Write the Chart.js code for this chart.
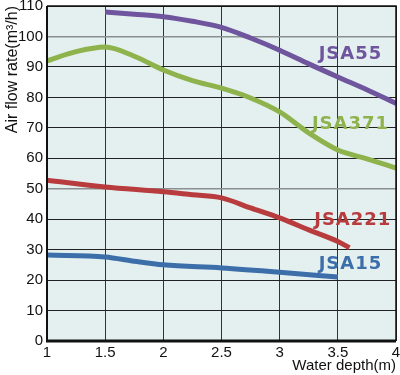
<!DOCTYPE html>
<html lang="en">
<head>
  <meta charset="UTF-8">
  <title>Air flow rate vs water depth</title>
  <script src="https://cdn.jsdelivr.net/npm/chart.js"></script>
  <style>
    html, body {
      margin: 0;
      padding: 0;
      background: #ffffff;
    }
    #wrap {
      width: 400px;
      height: 375px;
    }
  </style>
</head>
<body>
  <div id="wrap"><canvas id="chart" width="400" height="375"></canvas></div>

  <script>
    // water depth (m) / air flow rate (m3/h)
    const seriesNames = ['JSA55', 'JSA371', 'JSA221', 'JSA15'];
    const seriesColors = ['#6f559d', '#8fb34c', '#b83c3e', '#3c6ea9'];

    const jsa55Depth = [1.5, 1.75, 2, 2.25, 2.5, 2.75, 3, 3.25, 3.5, 3.75, 4];
    const jsa55Flow = [108, 107.3, 106.5, 105, 103, 99.5, 95.5, 91, 86.7, 82.5, 78];

    const jsa371Depth = [1, 1.25, 1.5, 1.75, 2, 2.25, 2.5, 2.75, 3, 3.25, 3.5, 3.75, 4];
    const jsa371Flow = [92, 95, 96.5, 93.5, 89, 85.5, 83, 79.8, 75.2, 68.3, 62.7, 59.8, 56.8];

    const jsa221Depth = [1, 1.5, 2, 2.25, 2.5, 2.75, 3, 3.25, 3.5, 3.6];
    const jsa221Flow = [52.8, 50.6, 49, 48, 47, 43.7, 40.4, 36.5, 32.7, 30.6];

    const jsa15Depth = [1, 1.5, 1.75, 2, 2.5, 3, 3.5];
    const jsa15Flow = [28.2, 27.6, 26.2, 25, 24, 22.6, 21];

    const depthList = [jsa55Depth, jsa371Depth, jsa221Depth, jsa15Depth];
    const flowList = [jsa55Flow, jsa371Flow, jsa221Flow, jsa15Flow];

    // where each series name sits, in data units
    const labelAt = [[3.6, 94], [3.6, 71], [3.62, 39.5], [3.6, 25.3]];

    const datasets = seriesNames.map((name, i) => ({
      label: name,
      data: depthList[i].map((d, j) => ({ x: d, y: flowList[i][j] })),
      borderColor: seriesColors[i],
      borderWidth: 5,
      pointRadius: 0,
      tension: 0.4,
      cubicInterpolationMode: 'monotone',
      fill: false
    }));

    const plotBackground = {
      id: 'plotBackground',
      beforeDraw(chart) {
        const { ctx, chartArea: a } = chart;
        ctx.save();
        ctx.fillStyle = '#e4eff0';
        ctx.fillRect(a.left, a.top, a.right - a.left, a.bottom - a.top);
        ctx.restore();
      },
      afterDatasetsDraw(chart) {
        const { ctx, chartArea: a } = chart;
        ctx.save();
        ctx.strokeStyle = '#111';
        ctx.lineWidth = 1.5;
        ctx.beginPath();
        ctx.moveTo(a.left, a.top);
        ctx.lineTo(a.right, a.top);
        ctx.lineTo(a.right, a.bottom);
        ctx.stroke();
        ctx.lineWidth = 3;
        ctx.beginPath();
        ctx.moveTo(a.left - 1, a.bottom);
        ctx.lineTo(a.right, a.bottom);
        ctx.stroke();
        ctx.lineWidth = 2;
        ctx.beginPath();
        ctx.moveTo(a.left, a.top);
        ctx.lineTo(a.left, a.bottom);
        ctx.stroke();

        // series names
        const xs = chart.scales.x, ys = chart.scales.y;
        ctx.font = 'bold 18px "DejaVu Sans"';
        ctx.textAlign = 'center';
        ctx.textBaseline = 'middle';
        if ('letterSpacing' in ctx) ctx.letterSpacing = '1px';
        seriesNames.forEach((name, i) => {
          ctx.fillStyle = seriesColors[i];
          ctx.fillText(name, xs.getPixelForValue(labelAt[i][0]) + 1, ys.getPixelForValue(labelAt[i][1]));
        });
        ctx.restore();
      }
    };

    new Chart(document.getElementById('chart'), {
      type: 'line',
      data: { datasets },
      plugins: [plotBackground],
      options: {
        responsive: false,
        animation: false,
        layout: { padding: { top: 6, right: 4, left: 0, bottom: 0 } },
        plugins: {
          legend: { display: false },
          tooltip: { enabled: false }
        },
        scales: {
          x: {
            type: 'linear',
            min: 1,
            max: 4,
            ticks: {
              stepSize: 0.5,
              color: '#111',
              padding: 3,
              font: { family: 'Liberation Sans', size: 15 },
              callback: v => String(v)
            },
            grid: { color: '#333', lineWidth: 1, drawTicks: false },
            border: { display: false },
            title: {
              display: true,
              text: 'Water depth(m)',
              align: 'end',
              color: '#111',
              padding: 0,
              font: { family: 'Liberation Sans', size: 15 }
            },
            afterFit(scale) {
              scale.height = 34;
              scale.paddingLeft = 0;
              scale.paddingRight = 0;
            }
          },
          y: {
            min: 0,
            max: 110,
            ticks: {
              stepSize: 10,
              color: '#111',
              padding: 4,
              font: { family: 'Liberation Sans', size: 15 }
            },
            grid: {
              color: ctx => (ctx.tick && ctx.tick.value % 50 === 0 && ctx.tick.value > 0) ? '#8a8f8f' : '#222',
              lineWidth: ctx => (ctx.tick && ctx.tick.value % 50 === 0 && ctx.tick.value > 0) ? 1.6 : 1,
              drawTicks: false
            },
            border: { display: false },
            title: {
              display: true,
              text: 'Air flow rate(m³/h)',
              align: 'end',
              color: '#111',
              padding: { top: 3, bottom: 0 },
              font: { family: 'Liberation Sans', size: 16 }
            },
            afterFit(scale) {
              scale.width = 47;
              scale.paddingTop = 0;
              scale.paddingBottom = 0;
            }
          }
        }
      }
    });
  </script>
</body>
</html>
